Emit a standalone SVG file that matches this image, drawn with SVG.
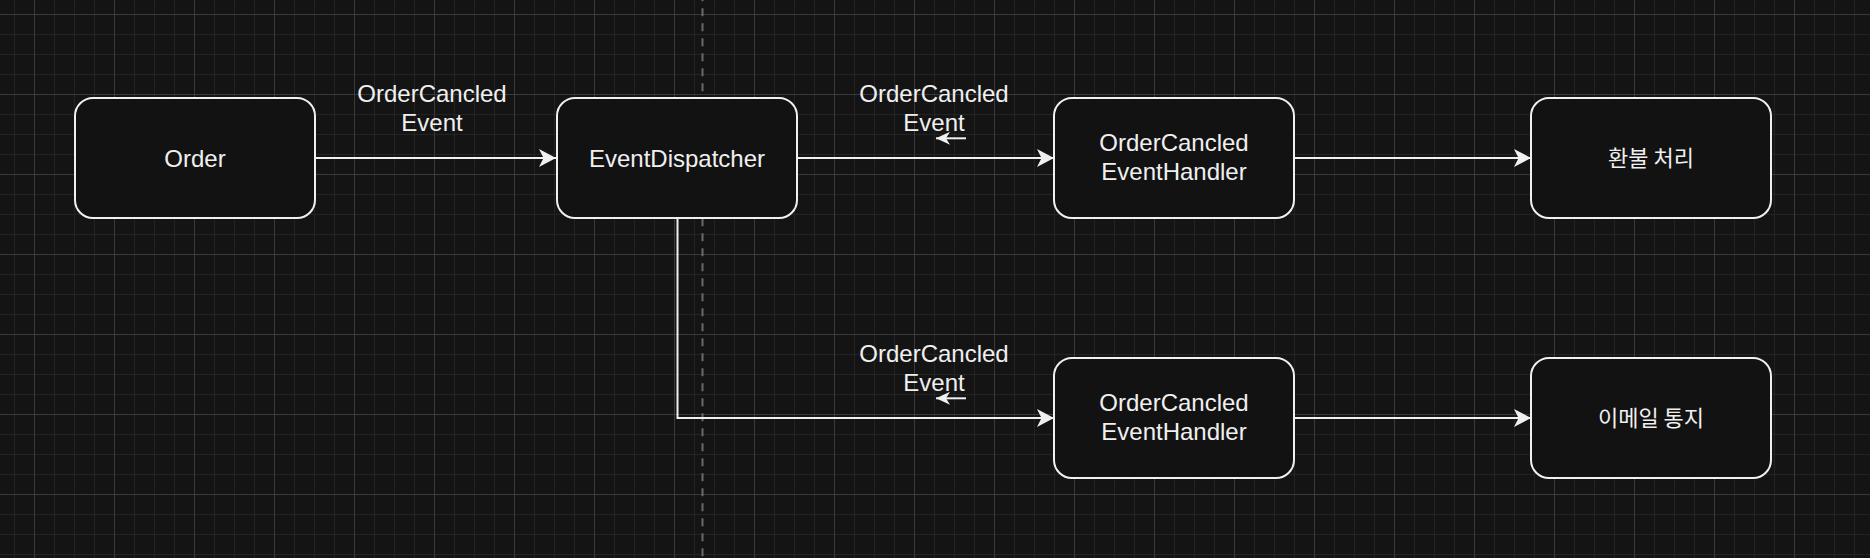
<svg xmlns="http://www.w3.org/2000/svg" width="1870" height="558" viewBox="0 0 1870 558">
  <style>
    .box { fill: #121212; stroke: #f0f0f0; stroke-width: 2; }
    .lbl { font-family: "Liberation Sans", Arial, "Noto Sans CJK KR", sans-serif; font-size: 24px; fill: #f0f0f0; text-anchor: middle; }
    .ko { font-family: "Noto Sans CJK KR", "Liberation Sans", sans-serif; font-size: 22px; fill: #f0f0f0; text-anchor: middle; }
    .edge { fill: none; stroke: #f0f0f0; stroke-width: 2; }
  </style>
  <defs>
    <pattern id="grid" patternUnits="userSpaceOnUse" x="34" y="14" width="80" height="80">
      <rect x="20" y="0" width="1" height="80" fill="#232323"/>
      <rect x="40" y="0" width="1" height="80" fill="#232323"/>
      <rect x="60" y="0" width="1" height="80" fill="#232323"/>
      <rect x="0" y="20" width="80" height="1" fill="#232323"/>
      <rect x="0" y="40" width="80" height="1" fill="#232323"/>
      <rect x="0" y="60" width="80" height="1" fill="#232323"/>
      <rect x="0" y="0" width="1" height="80" fill="#3a3a3a"/>
      <rect x="0" y="0" width="80" height="1" fill="#3a3a3a"/>
    </pattern>
    <marker id="arrow" markerUnits="userSpaceOnUse" markerWidth="20" markerHeight="20" refX="17" refY="9" orient="auto">
      <path d="M0,0 L17,9 L0,18 L4.5,9 Z" fill="#f0f0f0"/>
    </marker>
    <marker id="arrowSmall" markerUnits="userSpaceOnUse" markerWidth="16" markerHeight="16" refX="14" refY="6.5" orient="auto">
      <path d="M0,0 L14,6.5 L0,13 L4,6.5 Z" fill="#f0f0f0"/>
    </marker>
  </defs>

  <rect x="0" y="0" width="1870" height="558" fill="#141414"/>
  <rect x="0" y="0" width="1870" height="558" fill="url(#grid)"/>
  <line x1="702.5" y1="0" x2="702.5" y2="558" stroke="#6a6a6a" stroke-width="2" stroke-dasharray="8 7" stroke-dashoffset="6.7"/>

  <g id="connectors">
    <path class="edge" d="M315,158 H556" marker-end="url(#arrow)"/>
    <path class="edge" d="M797,158 H1054" marker-end="url(#arrow)"/>
    <path class="edge" d="M1294,158 H1531" marker-end="url(#arrow)"/>
    <path class="edge" d="M677.5,218 V418 H1054" marker-end="url(#arrow)"/>
    <path class="edge" d="M1294,418 H1531" marker-end="url(#arrow)"/>
    <path class="edge" d="M966,138.3 H936" marker-end="url(#arrowSmall)"/>
    <path class="edge" d="M966,398.3 H936" marker-end="url(#arrowSmall)"/>
    <text class="lbl" x="432" y="102">OrderCancled</text>
    <text class="lbl" x="432" y="131">Event</text>
    <text class="lbl" x="934" y="102">OrderCancled</text>
    <text class="lbl" x="934" y="131">Event</text>
    <text class="lbl" x="934" y="362">OrderCancled</text>
    <text class="lbl" x="934" y="391">Event</text>
  </g>

  <g id="order">
    <rect class="box" x="75" y="98" width="240" height="120" rx="18" ry="18"/>
    <text class="lbl" x="195" y="166.5">Order</text>
  </g>
  <g id="eventDispatcher">
    <rect class="box" x="557" y="98" width="240" height="120" rx="18" ry="18"/>
    <text class="lbl" x="677" y="166.5">EventDispatcher</text>
  </g>
  <g id="handler1">
    <rect class="box" x="1054" y="98" width="240" height="120" rx="18" ry="18"/>
    <text class="lbl" x="1174" y="151">OrderCancled</text>
    <text class="lbl" x="1174" y="180">EventHandler</text>
  </g>
  <g id="refund">
    <rect class="box" x="1531" y="98" width="240" height="120" rx="18" ry="18"/>
    <text class="ko" x="1651" y="166">환불 처리</text>
  </g>
  <g id="handler2">
    <rect class="box" x="1054" y="358" width="240" height="120" rx="18" ry="18"/>
    <text class="lbl" x="1174" y="411">OrderCancled</text>
    <text class="lbl" x="1174" y="440">EventHandler</text>
  </g>
  <g id="email">
    <rect class="box" x="1531" y="358" width="240" height="120" rx="18" ry="18"/>
    <text class="ko" x="1651" y="426">이메일 통지</text>
  </g>
</svg>
